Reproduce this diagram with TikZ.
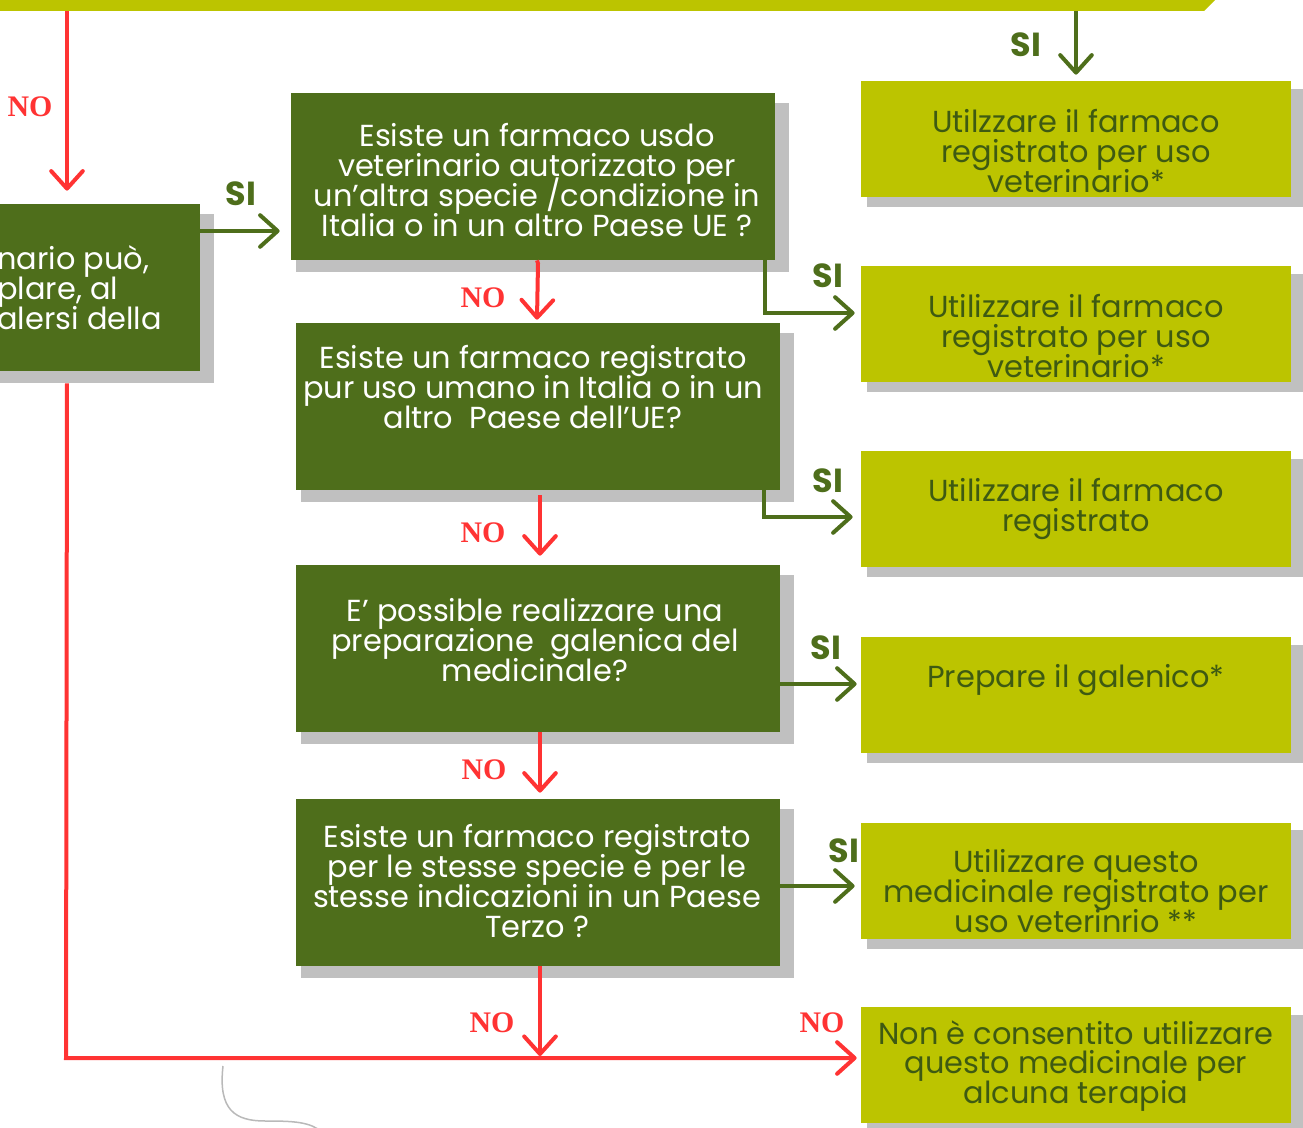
\documentclass[tikz,border=0pt]{standalone}
\usepackage{fontspec}
\setmainfont{Poppins}
\newfontfamily\serifno{Liberation Serif}
\usetikzlibrary{arrows.meta,positioning,backgrounds}
\definecolor{qgreen}{HTML}{4E6E1B}
\definecolor{lime}{HTML}{BCC400}
\definecolor{rtextcol}{HTML}{3E5A12}
\definecolor{nored}{HTML}{FF3333}
\definecolor{shadowgray}{HTML}{C0C0C0}
\def\pix{0.02cm}
\newcommand\boxfontsize{\fontsize{17.3}{17}\selectfont\lineskiplimit=-20pt\relax}
\tikzset{
  qbox/.style={fill=qgreen, inner sep=0pt, minimum width=484*\pix, minimum height=167*\pix},
  rbox/.style={fill=lime, inner sep=0pt, minimum width=430*\pix, minimum height=116*\pix},
  qtext/.style={text=white, align=center, inner sep=0pt, font=\boxfontsize},
  rtext/.style={text=rtextcol, align=center, inner sep=0pt, font=\boxfontsize},
  barb/.style={-{Straight Barb[length=10pt,width=18pt,line cap=round,line join=round]}},
  noarrow/.style={draw=nored, line width=4*\pix, barb},
  siarrow/.style={draw=qgreen, line width=4*\pix, barb},
  nolabel/.style={text=nored, inner sep=0pt, font=\serifno\bfseries\fontsize{17}{17}\selectfont},
  silabel/.style={text=qgreen, inner sep=0pt, font=\bfseries\fontsize{19}{19}\selectfont},
}
\begin{document}
\begin{tikzpicture}[x=0.02cm, y=-0.02cm]
  \useasboundingbox (0,0) rectangle (1303,1128);

  % top banner (cut by the page)
  \fill[lime] (-5,-5) -- (1220,-5) -- (1204,11) -- (-5,11) -- cycle;
  \coordinate (topno) at (67,11);
  \coordinate (topsi) at (1076,11);

  % boxes
  \node[qbox, minimum width=230*\pix] (lbox) at (85,287.5) {};
  \node[qbox] (q1) at (533,176.5) {};
  \node[qbox] (q2) at (538,406.5) {};
  \node[qbox] (q3) at (538,648.5) {};
  \node[qbox] (q4) at (538,882.5) {};

  \node[rbox] (r1) at (1076,139) {};
  \node[rbox] (r2) at (1076,324) {};
  \node[rbox] (r3) at (1076,509) {};
  \node[rbox] (r4) at (1076,695) {};
  \node[rbox] (r5) at (1076,880.5) {};
  \node[rbox] (r6) at (1076,1065) {};

  \begin{scope}[on background layer]
    \foreach \b in {lbox,q1,q2,q3,q4}
      \fill[shadowgray] ([shift={(5,10)}]\b.north west) rectangle ([shift={(14,12)}]\b.south east);
    \foreach \b in {r1,r2,r3,r4,r5,r6}
      \fill[shadowgray] ([shift={(6,8)}]\b.north west) rectangle ([shift={(14,10)}]\b.south east);
  \end{scope}

  % texts
  \node[qtext, anchor=west, align=left] (ltxt) at (-3,288) {nario può,\\plare, al\\alersi della};
  \node[qtext] (q1txt) at (537,180) {Esiste un farmaco usdo\\veterinario autorizzato per\\un’altra specie /condizione in\\Italia o in un altro Paese UE ?};
  \node[qtext] (q2txt) at (533,387) {Esiste un farmaco registrato\\pur uso umano in Italia o in un\\altro~ Paese dell’UE?};
  \node[qtext] (q3txt) at (535,640) {E’ possible realizzare una\\preparazione~ galenica del\\medicinale?};
  \node[qtext] (q4txt) at (537,881) {Esiste un farmaco registrato\\per le stesse specie e per le\\stesse indicazioni in un Paese\\Terzo ?};

  \node[rtext] (r1txt) at (1076,151) {Utilzzare il farmaco\\registrato per uso\\veterinario*};
  \node[rtext] (r2txt) at (1076,336) {Utilizzare il farmaco\\registrato per uso\\veterinario*};
  \node[rtext] (r3txt) at (1076,509) {Utilizzare il farmaco\\registrato};
  \node[rtext] (r4txt) at (1076,680) {Prepare il galenico*};
  \node[rtext] (r5txt) at (1076,891) {Utilizzare questo\\medicinale registrato per\\uso veterinrio **};
  \node[rtext] (r6txt) at (1076,1066) {Non è consentito utilizzare\\questo medicinale per\\alcuna terapia};

  % NO connectors
  \draw[noarrow, shorten >=13*\pix] (topno) -- (topno |- lbox.north);
  \draw[noarrow] (q1.south -| 537,0) -- ([yshift=-3*\pix]q1.south -| q2.north) -- ([yshift=3*\pix]q2.north -| 537,0);
  \draw[noarrow, shorten <=5*\pix, shorten >=9*\pix] (q2.south -| 540,0) -- (q3.north -| 540,0);
  \draw[noarrow, shorten >=6*\pix] (q3.south -| 540,0) -- (q4.north -| 540,0);
  \coordinate (nobend) at (66,1058);
  \draw[noarrow, shorten >=2*\pix] (q4.south -| 540,0) -- (nobend -| 540,0);
  \draw[noarrow, shorten >=4*\pix] (topno |- lbox.south) ++(0,12) -- (nobend) -- (nobend -| r6.west);

  % SI connectors
  \draw[siarrow, shorten >=6*\pix] (topsi) -- (r1.north);
  \draw[siarrow, shorten >=11*\pix] (lbox.east |- 0,231) -- (q1.west |- 0,231);
  \draw[siarrow, shorten >=6*\pix] ([xshift=-10*\pix]q1.south east) |- ([yshift=11*\pix]r2.west);
  \draw[siarrow, shorten >=8*\pix] ([xshift=-16*\pix]q2.south east) |- ([yshift=-8*\pix]r3.west);
  \draw[siarrow, shorten >=4*\pix] (q3.east |- 0,684) -- (r4.west |- 0,684);
  \draw[siarrow, shorten >=6*\pix] (q4.east |- 0,886) -- (r5.west |- 0,886);

  % labels
  \node[nolabel] (no0) at (30,107) {NO};
  \node[nolabel] (no1) at (483,298) {NO};
  \node[nolabel] (no2) at (483,533) {NO};
  \node[nolabel] (no3) at (484,770) {NO};
  \node[nolabel] (no4) at (492,1023) {NO};
  \node[nolabel] (no5) at (822,1023) {NO};
  \node[silabel] (si0) at (1026,45) {SI};
  \node[silabel] (si1) at (241,194) {SI};
  \node[silabel] (si2) at (828,276) {SI};
  \node[silabel] (si3) at (828,481) {SI};
  \node[silabel] (si4) at (826,648) {SI};
  \node[silabel] (si5) at (844,851) {SI};

  % stray stroke
  \draw[gray!55, line width=1.5*\pix] (223,1066) .. controls (218,1110) and (235,1121) .. (265,1121)
    .. controls (295,1121) and (310,1122) .. (322,1132);
\end{tikzpicture}
\end{document}
